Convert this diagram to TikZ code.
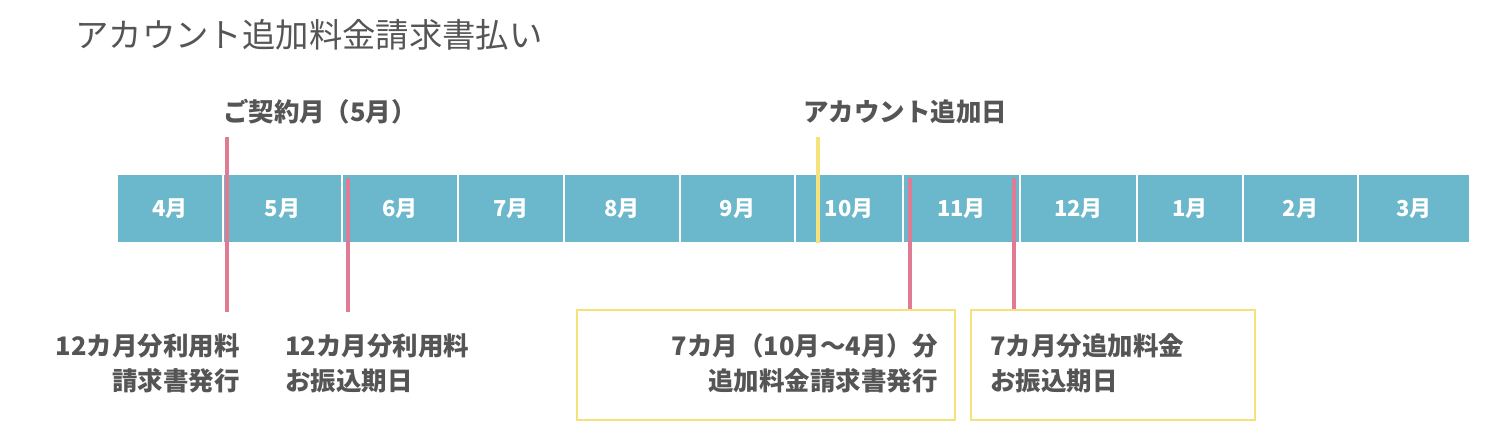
\documentclass[tikz,border=0pt]{standalone}
\usepackage{fontspec}
\setmainfont{Noto Sans CJK JP}
\definecolor{bar}{HTML}{6BB7CB}
\definecolor{pk}{HTML}{E07B93}
\definecolor{yl}{HTML}{F5E27A}
\definecolor{tx}{HTML}{555555}
\begin{document}
\begin{tikzpicture}[x=0.02cm,y=-0.02cm,
  cell/.style={fill=bar,draw=white,line width=0.8pt,minimum height=69*0.02cm,inner sep=0,outer sep=0,text=white,font=\bfseries\fontsize{12.5}{14}\selectfont},
  lab/.style={text=tx,font=\bfseries\fontsize{14.5}{20}\selectfont,inner sep=0},
  pline/.style={draw=pk,line width=2.2pt},
  yline/.style={draw=yl,line width=2.2pt},
  ybox/.style={draw=yl,line width=1.5pt}]
\useasboundingbox (0,0) rectangle (1494,444);
\node[anchor=west,text=tx,font=\fontsize{19}{22}\selectfont,inner sep=0] (title) at (75,35) {アカウント追加料金請求書払い};
\def\xs{117,223,342,458,564,680,795,903,1020,1137,1243,1358,1470}
\foreach \a/\b/\m [count=\i] in {117/223/4月,223/342/5月,342/458/6月,458/564/7月,564/680/8月,680/795/9月,795/903/10月,903/1020/11月,1020/1137/12月,1137/1243/1月,1243/1358/2月,1358/1470/3月}{
  \node[cell,minimum width={(\b-\a)*0.02cm}] (c\i) at ({(\a+\b)/2},208.5) {\m};
}
\coordinate (p1a) at (227,137); \coordinate (p1b) at (227,312);
\coordinate (p2a) at (348,178); \coordinate (p2b) at (348,312);
\coordinate (p3a) at (910,178); \coordinate (p3b) at (910,309);
\coordinate (p4a) at (1014,178); \coordinate (p4b) at (1014,309);
\coordinate (ya) at (818,137); \coordinate (yb) at (818,243);
\draw[pline] (p1a)--(p1b); \draw[pline] (p2a)--(p2b);
\draw[pline] (p3a)--(p3b); \draw[pline] (p4a)--(p4b);
\draw[yline] (ya)--(yb);
\node[lab] (l1) at (320,112) {ご契約月（5月）};
\node[lab,anchor=west] (l2) at (803,112) {アカウント追加日};
\node[lab,anchor=north east,align=right] (b1) at (240,333) {12カ月分利用料\\請求書発行};
\node[lab,anchor=north west,align=left] (b2) at (285,333) {12カ月分利用料\\お振込期日};
\draw[ybox] (577,310) rectangle (955,420);
\draw[ybox] (971,310) rectangle (1255,420);
\node[lab,anchor=north east,align=right] (b3) at (938,333) {7カ月（10月〜4月）分\\追加料金請求書発行};
\node[lab,anchor=north west,align=left] (b4) at (990,333) {7カ月分追加料金\\お振込期日};
\end{tikzpicture}
\end{document}
